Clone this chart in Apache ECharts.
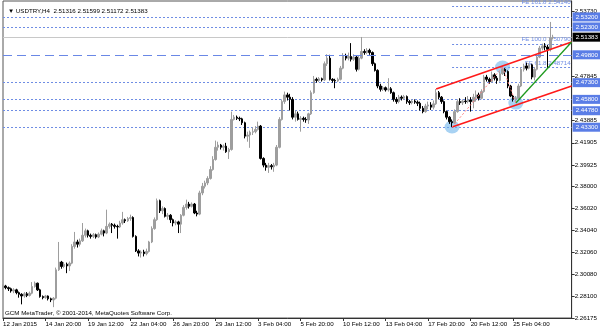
<!DOCTYPE html>
<html><head><meta charset="utf-8">
<script src="https://cdn.jsdelivr.net/npm/echarts@6/dist/echarts.min.js"></script>
<style>html,body{margin:0;padding:0;background:#fff}#c{width:600px;height:333px}</style>
</head><body><div id="c"></div>
<script>
// ---- data ----
const symbolTitle = '▼ USDTRY,H4  2.51316 2.51599 2.51172 2.51383';
const copyright = 'GCM MetaTrader, © 2001-2014, MetaQuotes Software Corp.';
const barCount = 215; // visible bar slots (incl. right shift)
const timeLabels = ['12 Jan 2015','14 Jan 20:00','19 Jan 12:00','22 Jan 04:00','26 Jan 20:00','29 Jan 12:00','3 Feb 04:00','5 Feb 20:00','10 Feb 12:00','13 Feb 04:00','17 Feb 20:00','20 Feb 12:00','25 Feb 04:00'];
const labelEvery = 16;
const priceTicks = [2.53730,2.47845,2.43885,2.41905,2.39925,2.38000,2.36020,2.34040,2.32060,2.30080,2.28100,2.26175];
const levels = [2.53200,2.52300,2.47300,2.45800,2.44780,2.43300];
const dashedLevel = 2.49800;
const bidPrice = 2.51383;
const feLevels = [['FE 161.8',2.54140],['FE 100.0',2.50790],['FE 61.8',2.48714]];
const fePoints = [[169,2.4332],[188,2.4870],[193,2.4547]];
const channelUpper = [[163,2.4673],[214,2.5095]];
const channelLower = [[169,2.4332],[214,2.4700]];
const trendGreen = [[193,2.4547],[214,2.5095]];
// [open, close, low, high]
const candles = [
[2.2880,2.2905,2.2870,2.2920],[2.2905,2.2890,2.2875,2.2915],[2.2890,2.2880,2.2860,2.2900],[2.2880,2.2860,2.2845,2.2890],
[2.2860,2.2870,2.2840,2.2885],[2.2870,2.2845,2.2830,2.2880],[2.2845,2.2830,2.2800,2.2855],[2.2830,2.2815,2.2740,2.2840],
[2.2815,2.2835,2.2800,2.2850],[2.2835,2.2820,2.2805,2.2850],[2.2820,2.2840,2.2810,2.2855],[2.2840,2.2900,2.2830,2.2940],
[2.2900,2.2930,2.2890,2.2945],[2.2930,2.2870,2.2860,2.2935],[2.2870,2.2810,2.2800,2.2880],[2.2810,2.2800,2.2785,2.2820],
[2.2800,2.2815,2.2790,2.2825],[2.2815,2.2790,2.2775,2.2820],[2.2790,2.2780,2.2760,2.2800],[2.2780,2.2795,2.2715,2.2805],
[2.2795,2.3050,2.2785,2.3070],[2.3050,2.3120,2.3040,2.3300],[2.3120,2.3080,2.3060,2.3130],[2.3080,2.3100,2.3065,2.3120],
[2.3100,2.3085,2.3020,2.3115],[2.3085,2.3110,2.3040,2.3125],[2.3110,2.3260,2.3100,2.3280],[2.3260,2.3300,2.3240,2.3390],
[2.3300,2.3280,2.3250,2.3320],[2.3280,2.3310,2.3260,2.3330],[2.3310,2.3360,2.3300,2.3470],[2.3360,2.3400,2.3340,2.3420],
[2.3400,2.3360,2.3340,2.3410],[2.3360,2.3350,2.3330,2.3375],[2.3350,2.3365,2.3335,2.3380],[2.3365,2.3345,2.3330,2.3375],
[2.3345,2.3370,2.3335,2.3385],[2.3370,2.3400,2.3360,2.3420],[2.3400,2.3380,2.3350,2.3410],[2.3380,2.3440,2.3370,2.3590],
[2.3440,2.3460,2.3420,2.3475],[2.3460,2.3450,2.3380,2.3470],[2.3450,2.3440,2.3420,2.3465],[2.3440,2.3435,2.3330,2.3455],
[2.3435,2.3470,2.3425,2.3490],[2.3470,2.3500,2.3455,2.3570],[2.3500,2.3490,2.3470,2.3510],[2.3490,2.3510,2.3480,2.3525],
[2.3510,2.3520,2.3490,2.3545],[2.3520,2.3350,2.3340,2.3530],[2.3350,2.3220,2.3210,2.3360],[2.3220,2.3200,2.3170,2.3235],
[2.3200,2.3210,2.3160,2.3225],[2.3210,2.3195,2.3170,2.3230],[2.3195,2.3215,2.3180,2.3240],[2.3215,2.3300,2.3205,2.3310],
[2.3300,2.3420,2.3290,2.3440],[2.3420,2.3500,2.3410,2.3520],[2.3500,2.3670,2.3490,2.3690],[2.3670,2.3580,2.3560,2.3680],
[2.3580,2.3600,2.3550,2.3620],[2.3600,2.3530,2.3520,2.3610],[2.3530,2.3540,2.3500,2.3560],[2.3540,2.3500,2.3470,2.3550],
[2.3500,2.3470,2.3440,2.3510],[2.3470,2.3480,2.3450,2.3495],[2.3480,2.3460,2.3380,2.3490],[2.3460,2.3540,2.3380,2.3550],
[2.3540,2.3610,2.3530,2.3630],[2.3610,2.3640,2.3590,2.3680],[2.3640,2.3620,2.3600,2.3660],[2.3620,2.3640,2.3610,2.3655],
[2.3640,2.3560,2.3550,2.3650],[2.3560,2.3550,2.3530,2.3580],[2.3550,2.3740,2.3540,2.3760],[2.3740,2.3800,2.3720,2.3830],
[2.3800,2.3830,2.3780,2.3850],[2.3830,2.3870,2.3810,2.3890],[2.3870,2.3950,2.3860,2.3980],[2.3950,2.4040,2.3940,2.4070],
[2.4040,2.4150,2.4030,2.4210],[2.4150,2.4170,2.4120,2.4200],[2.4170,2.4150,2.4130,2.4180],[2.4150,2.4160,2.4120,2.4175],
[2.4160,2.4110,2.4100,2.4190],[2.4110,2.4130,2.4045,2.4145],[2.4130,2.4400,2.4120,2.4470],[2.4400,2.4420,2.4390,2.4440],
[2.4420,2.4410,2.4395,2.4435],[2.4410,2.4405,2.4385,2.4425],[2.4405,2.4370,2.4350,2.4415],[2.4370,2.4250,2.4230,2.4380],
[2.4250,2.4260,2.4200,2.4290],[2.4260,2.4285,2.4145,2.4300],[2.4285,2.4290,2.4260,2.4330],[2.4290,2.4310,2.4275,2.4340],
[2.4310,2.4340,2.4300,2.4380],[2.4340,2.4050,2.4040,2.4350],[2.4050,2.3990,2.3970,2.4060],[2.3990,2.3970,2.3940,2.4010],
[2.3970,2.3985,2.3920,2.4010],[2.3985,2.3975,2.3950,2.4000],[2.3975,2.3990,2.3930,2.4010],[2.3990,2.4150,2.3980,2.4170],
[2.4150,2.4400,2.4140,2.4420],[2.4400,2.4560,2.4390,2.4580],[2.4560,2.4620,2.4540,2.4650],[2.4620,2.4600,2.4570,2.4640],
[2.4600,2.4580,2.4480,2.4630],[2.4580,2.4420,2.4400,2.4600],[2.4420,2.4450,2.4380,2.4480],[2.4450,2.4400,2.4390,2.4470],
[2.4400,2.4410,2.4290,2.4430],[2.4410,2.4400,2.4380,2.4425],[2.4400,2.4395,2.4370,2.4420],[2.4395,2.4450,2.4360,2.4460],
[2.4450,2.4640,2.4440,2.4660],[2.4640,2.4760,2.4630,2.4790],[2.4760,2.4750,2.4730,2.4775],[2.4750,2.4765,2.4735,2.4780],
[2.4765,2.4755,2.4740,2.4775],[2.4755,2.4900,2.4745,2.4920],[2.4900,2.4950,2.4880,2.4985],[2.4950,2.4760,2.4750,2.4980],
[2.4760,2.4750,2.4730,2.4770],[2.4750,2.4745,2.4680,2.4765],[2.4745,2.4760,2.4735,2.4775],[2.4760,2.4860,2.4750,2.4880],
[2.4860,2.4970,2.4850,2.4995],[2.4970,2.4950,2.4930,2.4990],[2.4950,2.4965,2.4930,2.5000],[2.4965,2.4940,2.4920,2.5085],
[2.4940,2.4960,2.4925,2.4985],[2.4960,2.4850,2.4830,2.4970],[2.4850,2.4950,2.4840,2.4970],[2.4950,2.5010,2.4940,2.5140],
[2.5010,2.5000,2.4980,2.5030],[2.5000,2.5020,2.4985,2.5040],[2.5020,2.5000,2.4980,2.5035],[2.5000,2.4900,2.4880,2.5010],
[2.4900,2.4840,2.4830,2.4910],[2.4840,2.4700,2.4680,2.4850],[2.4700,2.4670,2.4650,2.4720],[2.4670,2.4685,2.4655,2.4700],
[2.4685,2.4665,2.4650,2.4695],[2.4665,2.4675,2.4650,2.4770],[2.4675,2.4640,2.4630,2.4690],[2.4640,2.4580,2.4560,2.4650],
[2.4580,2.4560,2.4540,2.4600],[2.4560,2.4600,2.4545,2.4620],[2.4600,2.4590,2.4570,2.4615],[2.4590,2.4605,2.4575,2.4620],
[2.4605,2.4560,2.4540,2.4615],[2.4560,2.4550,2.4530,2.4575],[2.4550,2.4565,2.4535,2.4580],[2.4565,2.4555,2.4540,2.4580],
[2.4555,2.4545,2.4520,2.4570],[2.4545,2.4500,2.4480,2.4560],[2.4500,2.4470,2.4455,2.4520],[2.4470,2.4520,2.4460,2.4540],
[2.4520,2.4530,2.4490,2.4560],[2.4530,2.4510,2.4485,2.4555],[2.4510,2.4540,2.4490,2.4570],[2.4540,2.4640,2.4530,2.4673],
[2.4640,2.4600,2.4580,2.4655],[2.4600,2.4560,2.4540,2.4610],[2.4560,2.4470,2.4455,2.4570],[2.4470,2.4420,2.4400,2.4480],
[2.4420,2.4380,2.4360,2.4430],[2.4380,2.4370,2.4332,2.4400],[2.4370,2.4470,2.4360,2.4490],[2.4470,2.4560,2.4460,2.4580],
[2.4560,2.4550,2.4530,2.4590],[2.4550,2.4565,2.4530,2.4580],[2.4565,2.4560,2.4540,2.4600],[2.4560,2.4575,2.4545,2.4610],
[2.4575,2.4560,2.4470,2.4600],[2.4560,2.4600,2.4500,2.4630],[2.4600,2.4620,2.4560,2.4660],[2.4620,2.4590,2.4570,2.4640],
[2.4590,2.4650,2.4580,2.4670],[2.4650,2.4780,2.4640,2.4800],[2.4780,2.4760,2.4740,2.4800],[2.4760,2.4740,2.4720,2.4775],
[2.4740,2.4800,2.4730,2.4830],[2.4800,2.4770,2.4750,2.4815],[2.4770,2.4750,2.4720,2.4790],[2.4750,2.4810,2.4740,2.4830],
[2.4810,2.4850,2.4800,2.4878],[2.4850,2.4830,2.4790,2.4860],[2.4830,2.4700,2.4680,2.4840],[2.4700,2.4610,2.4600,2.4710],
[2.4610,2.4580,2.4560,2.4620],[2.4580,2.4590,2.4547,2.4610],[2.4590,2.4700,2.4580,2.4720],[2.4700,2.4850,2.4690,2.4870],
[2.4850,2.4880,2.4830,2.4900],[2.4880,2.4860,2.4840,2.4910],[2.4860,2.4890,2.4850,2.4905],[2.4890,2.4780,2.4760,2.4900],
[2.4780,2.4850,2.4750,2.4870],[2.4850,2.4960,2.4840,2.4980],[2.4960,2.5040,2.4950,2.5060],[2.5040,2.5060,2.5020,2.5080],
[2.5060,2.5050,2.5020,2.5085],[2.5050,2.5030,2.4860,2.5070],[2.5030,2.5132,2.5010,2.5275],[2.51316,2.51383,2.51172,2.51599]
];

// ---- chart ----
const FONT = 'Liberation Sans';
const LEVEL_BLUE = '#6f8de4';
const BOX_BLUE = '#5a7de6';
const cats = Array.from({length: barCount}, (_, i) => String(i));
const chart = echarts.init(document.getElementById('c'), null, {renderer: 'canvas'});

function boxLabel(bg, v) {
  return {show: true, position: 'end', distance: 1, formatter: v.toFixed(5),
    backgroundColor: bg, color: '#fff', fontFamily: FONT, fontSize: 6.2, padding: [1, 3, 0, 3], lineHeight: 8};
}
const levelLines = levels.map(v => ({yAxis: v, lineStyle: {type: [2, 2], color: LEVEL_BLUE, width: 1}, label: boxLabel(BOX_BLUE, v)}));
levelLines.push({yAxis: bidPrice, lineStyle: {type: 'solid', color: '#c8c8c8', width: 1}, label: boxLabel('#000', bidPrice)});
const feLines = feLevels.map(([name, v]) => [
  {coord: [fePoints[0][0], v], lineStyle: {type: [2, 2], color: LEVEL_BLUE, width: 1},
   label: {show: true, position: 'insideEndTop', distance: 1, formatter: name + ' ' + v.toFixed(5), color: LEVEL_BLUE, fontFamily: FONT, fontSize: 6.2}},
  {coord: [barCount - 1, v]}
]);
function seg(pts, style) { return [{coord: pts[0], lineStyle: style}, {coord: pts[1]}]; }
const drawLines = [
  seg(channelUpper, {color: '#ff1a1a', width: 1.6, type: 'solid'}),
  seg(channelLower, {color: '#ff1a1a', width: 1.6, type: 'solid'}),
  seg(trendGreen, {color: '#1f9a1f', width: 1.3, type: 'solid'}),
  seg([fePoints[0], fePoints[1]], {color: '#ff8080', width: 1, type: [2, 2]}),
  seg([fePoints[1], fePoints[2]], {color: '#ff8080', width: 1, type: [2, 2]})
];

chart.setOption({
  animation: false,
  backgroundColor: '#fff',
  textStyle: {fontFamily: FONT},
  title: {text: symbolTitle, left: 3, top: 3, textStyle: {fontSize: 6.2, fontWeight: 'normal', color: '#000', fontFamily: FONT}},
  graphic: [{type: 'text', left: 5, top: 310, style: {text: copyright, fontSize: 6.2, fontFamily: FONT, fill: '#000'}}],
  grid: {left: 2, right: 28, top: 1, bottom: 15, show: true, borderColor: '#555', borderWidth: 1},
  xAxis: {
    type: 'category', data: cats, boundaryGap: false,
    axisLine: {lineStyle: {color: '#333', width: 1}},
    axisTick: {show: true, length: 3, inside: false, interval: i => i % labelEvery === 0 && i / labelEvery < timeLabels.length, lineStyle: {color: '#333'}},
    axisLabel: {interval: i => i % labelEvery === 0 && i / labelEvery < timeLabels.length, formatter: (v, i) => timeLabels[i / labelEvery] || '',
      align: 'left', margin: 3, fontSize: 6.2, color: '#000', fontFamily: FONT},
    splitLine: {show: false}
  },
  yAxis: {
    type: 'value', position: 'right', min: 2.26175, max: 2.5463, scale: true,
    axisLine: {show: true, lineStyle: {color: '#333'}},
    axisTick: {show: true, length: 3, customValues: priceTicks, lineStyle: {color: '#333'}},
    axisLabel: {customValues: priceTicks, formatter: v => v.toFixed(5), margin: 3, fontSize: 6.2, color: '#000', fontFamily: FONT},
    splitLine: {show: false}
  },
  series: [
    {
      type: 'line', data: [], z: 1, color: '#6a88e6',
      markLine: {silent: true, symbol: 'none', animation: false, precision: 5,
        lineStyle: {type: [9, 5], color: '#6a88e6', width: 1},
        data: [{yAxis: dashedLevel, label: boxLabel(BOX_BLUE, dashedLevel)}]}
    },
    {
      type: 'candlestick', data: candles, barWidth: 2,
      itemStyle: {color: '#9e9e9e', color0: '#000', borderColor: '#9e9e9e', borderColor0: '#000', borderWidth: 1},
      markLine: {silent: true, symbol: 'none', animation: false, precision: 5, data: levelLines.concat(feLines), z: 1}
    },
    {
      type: 'scatter', data: fePoints, symbol: 'circle', symbolSize: [15, 13], z: 1,
      itemStyle: {color: 'rgba(110,180,235,0.75)'}
    },
    {
      type: 'line', data: [], z: 5,
      markLine: {silent: true, symbol: 'none', animation: false, label: {show: false}, data: drawLines}
    }
  ]
});
</script></body></html>
